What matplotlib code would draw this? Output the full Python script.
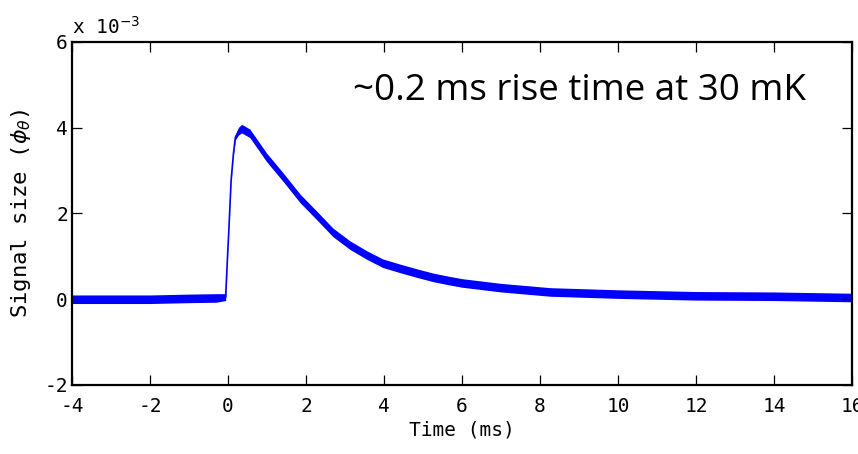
import numpy as np
import matplotlib
matplotlib.use('Agg')
import matplotlib.pyplot as plt

# trace (time in ms, signal in units of 1e-3 phi_0)
t_ms = [-4.0, -3.0, -2.0, -1.0, -0.3, -0.06, -0.02, 0.03, 0.08, 0.14, 0.19,
        0.27, 0.35, 0.56, 0.99, 1.42, 1.85, 2.27, 2.69, 3.13, 3.56, 3.97, 4.41,
        4.84, 5.26, 5.64, 6.0, 7.0, 8.26, 10.0, 12.0, 14.0, 16.0]
signal = [0.0, 0.0, 0.0, 0.02, 0.03, 0.05, 0.84, 1.77, 2.77, 3.40, 3.78,
          3.92, 3.98, 3.87, 3.31, 2.84, 2.35, 1.96, 1.56, 1.26, 1.03, 0.84, 0.72,
          0.61, 0.51, 0.44, 0.38, 0.27, 0.17, 0.12, 0.08, 0.07, 0.04]
# half width of the noise band around the trace
noise = [0.10, 0.10, 0.10, 0.10, 0.10, 0.08, 0.02, 0.02, 0.02, 0.03, 0.06,
         0.09, 0.10, 0.10, 0.10, 0.10, 0.10, 0.10, 0.10, 0.10, 0.10, 0.10, 0.10,
         0.10, 0.10, 0.10, 0.10, 0.10, 0.10, 0.10, 0.10, 0.10, 0.10]

xticks = [-4, -2, 0, 2, 4, 6, 8, 10, 12, 14, 16]
yticks = [-2, 0, 2, 4, 6]

mono = 'DejaVu Sans Mono'
plt.rcParams['mathtext.fontset'] = 'dejavusans'

t = np.array(t_ms)
s = np.array(signal)
n = np.array(noise)

fig = plt.figure(figsize=(8.58, 4.54), dpi=100)
ax = fig.add_axes([0.0839, 0.152, 0.9091, 0.7555])

ax.fill_between(t, s - n, s + n, color='#0000ff', lw=0)
ax.plot(t, s, color='#0000ff', lw=1.2)

ax.set_xlim(-4, 16)
ax.set_ylim(-2, 6)
ax.set_xticks(xticks)
ax.set_yticks(yticks)
ax.set_xticklabels([str(v) for v in xticks], family=mono, fontsize=14)
ax.set_yticklabels([str(v) for v in yticks], family=mono, fontsize=14)
ax.tick_params(direction='in', length=7, width=0.9, top=True, right=True, pad=3)
ax.tick_params(axis='x', pad=9)
for sp in ax.spines.values():
    sp.set_linewidth(1.6)

ax.set_xlabel('Time (ms)', family=mono, fontsize=14, labelpad=3)
ax.set_ylabel(r'Signal size ($\phi_\theta$)', family=mono, fontsize=16, labelpad=8)

ax.text(0.0, 1.012, r'x 10$^{-3}$', transform=ax.transAxes, family=mono,
        fontsize=14, ha='left', va='bottom')
ax.text(0.36, 0.805, '~0.2 ms rise time at 30 mK', transform=ax.transAxes,
        family='Open Sans', fontsize=26.5, ha='left', va='bottom')

plt.savefig('out.png', dpi=100)
plt.close()
